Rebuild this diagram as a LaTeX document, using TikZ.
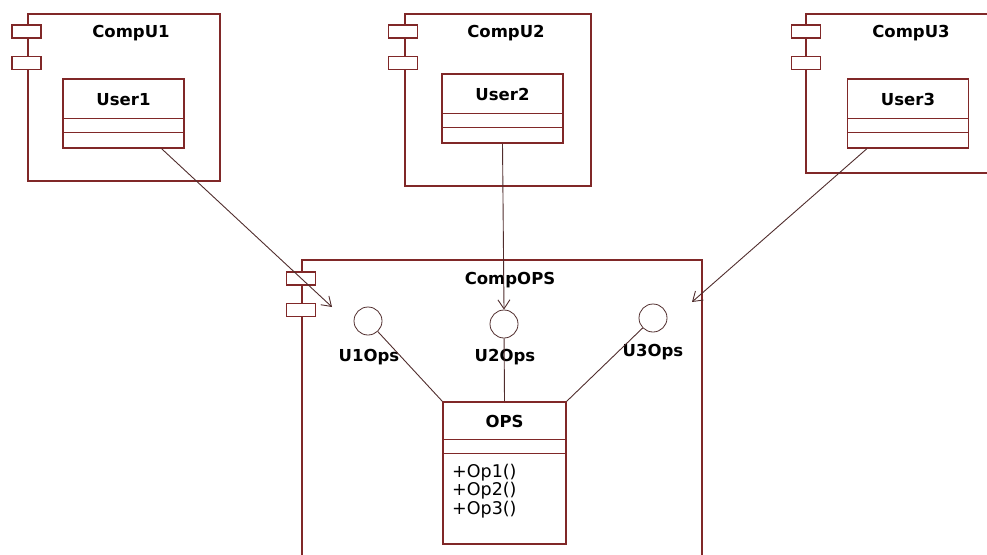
\documentclass[tikz,border=0pt]{standalone}
\usepackage{fontspec}
\setmainfont{DejaVu Sans}
\usetikzlibrary{arrows.meta}
\definecolor{umlbrown}{RGB}{128,40,40}
\definecolor{linkgray}{RGB}{80,45,45}

\begin{document}
\begin{tikzpicture}[
      x = 1pt, y = -1pt,
      every node/.style = {inner sep = 0pt, font = \fontsize{16}{18}\selectfont},
      comp/.style = {rectangle, draw = umlbrown, line width = 1.2pt},
      port/.style = {rectangle, draw = umlbrown, fill = white, line width = 1.2pt,
        minimum width = 29pt, minimum height = 13pt},
      klass/.style = {rectangle, draw = umlbrown, fill = white, line width = 1.2pt},
      div/.style = {draw = umlbrown, line width = 1.2pt},
      iface/.style = {circle, draw = linkgray, line width = .8pt, minimum size = 28pt},
      ttl/.style = {font = \fontsize{16.5}{18}\selectfont\bfseries},
      conn/.style = {draw = linkgray, line width = .9pt},
      dep/.style = {conn, -{Straight Barb[length = 9pt, width = 12pt]}}
      ]
    \clip (0,0) rectangle (987,554);

    % components
    \node[comp, minimum width = 192pt, minimum height = 167pt] (CU1) at (124,97.5) {};
    \node[comp, minimum width = 186pt, minimum height = 172pt] (CU2) at (498,100) {};
    \node[comp, minimum width = 200pt, minimum height = 159pt] (CU3) at (906,93.5) {};
    \node[comp, minimum width = 400pt, minimum height = 340pt] (COPS) at (502,430) {};

    % ports
    \node[port] (CU1a) at (26.5,31.5) {};
    \node[port] (CU1b) at (26.5,63) {};
    \node[port] (CU2a) at (403,31.5) {};
    \node[port] (CU2b) at (403,63) {};
    \node[port] (CU3a) at (806,31.5) {};
    \node[port] (CU3b) at (806,63) {};
    \node[port] (COPSa) at (301,278.5) {};
    \node[port] (COPSb) at (301,310) {};

    \node[ttl] (CU1t) at (131,33) {CompU1};
    \node[ttl] (CU2t) at (506,33) {CompU2};
    \node[ttl] (CU3t) at (911,33) {CompU3};
    \node[ttl] (COPSt) at (510,280) {CompOPS};

    % classes
    \node[klass, minimum width = 121pt, minimum height = 69pt] (User1) at (123.5,113.5) {};
    \node[klass, minimum width = 121pt, minimum height = 69pt] (User2) at (502.5,108.5) {};
    \node[klass, minimum width = 121pt, minimum height = 69pt] (User3) at (908,113.5) {};
    \node[klass, minimum width = 123pt, minimum height = 142pt] (OPS) at (504.5,473) {};

    \foreach \u in {User1,User2,User3} {
      \draw[div] ([yshift = 16pt]\u.south west) -- ([yshift = 16pt]\u.south east);
      \draw[div] ([yshift = 30pt]\u.south west) -- ([yshift = 30pt]\u.south east);
    }
    \draw[div] ([yshift = -38pt]OPS.north west) -- ([yshift = -38pt]OPS.north east);
    \draw[div] ([yshift = -52pt]OPS.north west) -- ([yshift = -52pt]OPS.north east);

    \node[ttl] (User1t) at (123.5,99.5) {User1};
    \node[ttl] (User2t) at (502.5,94) {User2};
    \node[ttl] (User3t) at (908,99.5) {User3};
    \node[ttl] (OPSt) at (504.5,421) {OPS};
    \node[anchor = west, align = left, font = \fontsize{17.5}{18.5}\selectfont] (OPSops) at (452,491) {+Op1()\\+Op2()\\+Op3()};

    % provided interfaces
    \node[iface] (U1c) at (368,321) {};
    \node[iface] (U2c) at (504,324) {};
    \node[iface] (U3c) at (653,318) {};
    \node[ttl] (U1l) at (369,357) {U1Ops};
    \node[ttl] (U2l) at (505,357) {U2Ops};
    \node[ttl] (U3l) at (653,352) {U3Ops};

    \draw[conn] (U1c)--(OPS.north west);
    \draw[conn] (U2c)--(OPS.north);
    \draw[conn] (U3c)--(OPS.north east);

    % usage
    \coordinate (U1head) at (332,307);
    \coordinate (U3head) at (692,302);
    \draw[dep] ([xshift = 38pt]User1.south)--(U1head);
    \draw[dep] (User2.south)--(U2c.north);
    \draw[dep] ([xshift = -41pt]User3.south)--(U3head);
  \end{tikzpicture}
\end{document}
